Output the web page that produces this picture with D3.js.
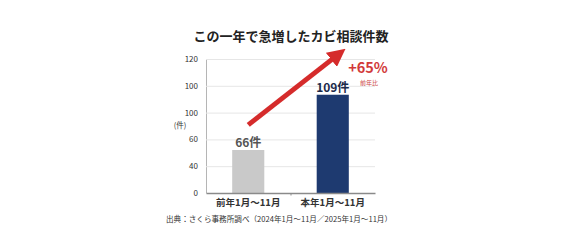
<!DOCTYPE html>
<html>
<head>
<meta charset="utf-8">
<script src="https://cdn.jsdelivr.net/npm/d3@7"></script>
<style>
  body { margin: 0; background: #fff; }
  svg text { font-family: "Noto Sans CJK JP", "Noto Sans", sans-serif; }
</style>
</head>
<body>
<svg id="canvas" width="580" height="248"></svg>
<script>
// data
const categories = ["前年1月～11月", "本年1月～11月"];
const barValues = [38.5, 88];          // bar tops, in axis units
const barLabels = ["66件", "109件"];
const tickValues = [0, 24, 48, 72, 96, 120];
const tickLabels = ["0", "40", "60", "100", "100", "120"];
const arrowFrom = [0, 61];            // [category position, value]
const arrowTo = [1.1, 126];

const svg = d3.select("#canvas");

const x = d3.scaleBand()
    .domain(categories)
    .range([206, 375])
    .paddingInner(0.62)
    .paddingOuter(0.31);

const y = d3.scaleLinear()
    .domain([0, 120])
    .range([193, 59]);

const xPos = d3.scaleLinear()
    .domain([0, 1])
    .range([x(categories[0]) + x.bandwidth() / 2, x(categories[1]) + x.bandwidth() / 2]);

// title
svg.append("text")
    .attr("x", 291)
    .attr("y", 41)
    .attr("text-anchor", "middle")
    .attr("font-size", 13)
    .attr("font-weight", "bold")
    .attr("fill", "#222")
    .text("この一年で急増したカビ相談件数");

// grid + y axis
const yAxis = d3.axisLeft(y)
    .tickValues(tickValues)
    .tickSize(-(375 - 206))
    .tickPadding(8)
    .tickFormat((d, i) => tickLabels[i]);

const yg = svg.append("g")
    .attr("transform", "translate(206,0)")
    .call(yAxis);
yg.select(".domain").attr("stroke", "#b5b5b5");
yg.selectAll(".tick line").attr("stroke", "#e6e6e6");
yg.selectAll(".tick text")
    .attr("font-size", 8)
    .attr("fill", "#333");

svg.append("text")
    .attr("x", 180)
    .attr("y", 128)
    .attr("text-anchor", "middle")
    .attr("font-size", 7.5)
    .attr("fill", "#333")
    .text("(件)");

// bars
const colors = ["#c9c9c9", "#1e3a70"];
svg.append("g")
    .selectAll("rect")
    .data(barValues)
    .join("rect")
    .attr("x", (d, i) => x(categories[i]))
    .attr("y", d => y(d))
    .attr("width", x.bandwidth())
    .attr("height", d => y(0) - y(d))
    .attr("fill", (d, i) => colors[i]);

svg.append("g")
    .selectAll("text")
    .data(barValues)
    .join("text")
    .attr("x", (d, i) => x(categories[i]) + x.bandwidth() / 2)
    .attr("y", d => y(d) - 3)
    .attr("text-anchor", "middle")
    .attr("font-size", 12)
    .attr("font-weight", "bold")
    .attr("fill", (d, i) => i === 0 ? "#555" : "#1c2a4a")
    .text((d, i) => barLabels[i]);

// x axis
const xAxis = d3.axisBottom(x).tickSize(0).tickPadding(6);
const xg = svg.append("g")
    .attr("transform", "translate(0,193)")
    .call(xAxis);
xg.select(".domain").attr("stroke", "#8a8a8a").attr("stroke-width", 1.5);
xg.selectAll(".tick text")
    .attr("font-size", 9.5)
    .attr("font-weight", "bold")
    .attr("fill", "#333");
xg.append("line")
    .attr("x1", 291).attr("x2", 291)
    .attr("y1", 0).attr("y2", 2.5)
    .attr("stroke", "#8a8a8a");

// arrow
const defs = svg.append("defs");
defs.append("marker")
    .attr("id", "head")
    .attr("viewBox", "0 0 10 10")
    .attr("refX", 2)
    .attr("refY", 5)
    .attr("markerWidth", 3.6)
    .attr("markerHeight", 3.6)
    .attr("orient", "auto")
    .append("path")
    .attr("d", "M0,0 L10,5 L0,10 Z")
    .attr("fill", "#d52b2b");

svg.append("line")
    .attr("x1", xPos(arrowFrom[0]))
    .attr("y1", y(arrowFrom[1]))
    .attr("x2", xPos(arrowTo[0]) - 7)
    .attr("y2", y(arrowTo[1]) + 5.3)
    .attr("stroke", "#d52b2b")
    .attr("stroke-width", 5)
    .attr("marker-end", "url(#head)");

svg.append("text")
    .attr("x", 368)
    .attr("y", 73)
    .attr("text-anchor", "middle")
    .attr("font-size", 14.5)
    .attr("font-weight", "bold")
    .attr("fill", "#d23a3a")
    .text("+65%");

svg.append("text")
    .attr("x", 369)
    .attr("y", 85)
    .attr("text-anchor", "middle")
    .attr("font-size", 6)
    .attr("fill", "#c44")
    .text("前年比");

// source
svg.append("text")
    .attr("x", 279)
    .attr("y", 222)
    .attr("text-anchor", "middle")
    .attr("font-size", 7.6)
    .attr("fill", "#333")
    .text("出典：さくら事務所調べ（2024年1月～11月／2025年1月～11月）");
</script>
</body>
</html>
